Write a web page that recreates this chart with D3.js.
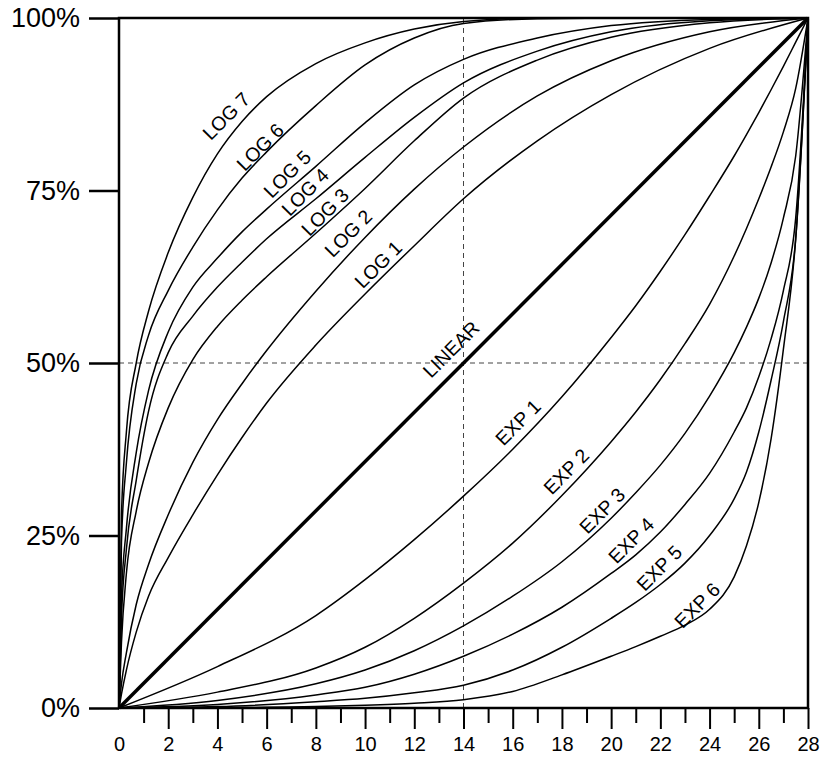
<!DOCTYPE html>
<html>
<head>
<meta charset="utf-8">
<script src="https://cdn.jsdelivr.net/npm/d3@7"></script>
<style>
  body { margin: 0; background: #fff; }
  text { font-family: "Liberation Sans", Arial, sans-serif; fill: #000; }
</style>
</head>
<body>
<svg width="822" height="761"></svg>
<script>
// x samples for the two families
var logX = [0, 0.1, 0.3, 0.7, 1.2, 2, 3, 4, 5, 6, 8, 10, 12, 14, 17, 20, 24, 28];
var expX = [0, 4, 8, 10, 12, 14, 16, 18, 20, 21, 22, 23, 24, 25, 25.5, 26, 26.5, 27, 27.5, 28];

// LOG curves, % at logX
var log7 = [0, 28, 40, 50, 57.5, 66, 74, 80.3, 85, 88.6, 93.4, 96.4, 98.4, 99.5, 100, 100, 100, 100];
var log6 = [0, 24, 35.5, 47, 54, 60.5, 66.8, 72.2, 76.8, 80.6, 87.3, 93.2, 97.1, 99.2, 99.9, 100, 100, 100];
var log5 = [0, 16, 26, 37, 46, 54.5, 61, 65.2, 69, 72.3, 78.5, 84.8, 90.3, 94.0, 97.1, 98.9, 99.8, 100];
var log4 = [0, 13, 23, 33, 43, 51.5, 56.8, 61, 64.6, 68, 73.8, 79.8, 85.6, 90.6, 95.2, 98, 99.6, 100];
var log3 = [0, 9.5, 19.5, 28.5, 35.5, 43.5, 50.5, 55.3, 59.1, 62.5, 68.8, 75.3, 82.2, 88.4, 93.9, 97.2, 99.3, 100];
var log2 = [0, 3.5, 8, 15, 20.8, 28, 35.6, 41.8, 47, 51.8, 60.4, 68.2, 75.2, 81.3, 88.7, 93.8, 98, 100];
var log1 = [0, 2, 5.5, 11, 16.2, 21.8, 28, 33.8, 39.2, 44.2, 52.6, 60, 67, 73.8, 82.2, 88.9, 95.6, 100];

// EXP curves, % at expX
var exp1 = [0, 6.0, 13.4, 18.6, 24.4, 30.7, 37.5, 45.1, 53.7, 58.3, 63.3, 68.6, 74.2, 80.0, 83.1, 86.3, 89.6, 93.0, 96.5, 100];
var exp2 = [0, 2.3, 5.8, 8.8, 13, 18.1, 23.9, 30.8, 38.6, 42.9, 47.6, 52.8, 58.5, 65.5, 69.5, 73.8, 78.4, 83.5, 89.8, 100];
var exp3 = [0, 1.1, 3.5, 5.5, 8.3, 11.9, 16.2, 21.2, 27.5, 31.2, 35.2, 39.8, 45.2, 51.5, 55.2, 59.4, 64.5, 71, 80, 100];
var exp4 = [0, 0.5, 1.9, 3, 4.9, 7.5, 10.7, 14.6, 19.5, 22.2, 25.5, 29.5, 34, 40, 43.5, 48, 53.5, 60.5, 71, 100];
var exp5 = [0, 0.2, 0.9, 1.4, 2.2, 3.3, 5.5, 8.8, 13, 15.3, 17.9, 21, 25, 30.3, 34.2, 40, 47.5, 56, 68, 100];
var exp6 = [0, 0.05, 0.2, 0.4, 0.7, 1.2, 2.4, 4.8, 7.5, 8.9, 10.4, 12, 14.3, 19, 23.5, 29.8, 39, 52, 68, 100];

var linearX = [0, 28];
var linearY = [0, 100];

// label names and where they sit (data coords)
var labelNames = ["LOG 7", "LOG 6", "LOG 5", "LOG 4", "LOG 3", "LOG 2", "LOG 1",
                  "LINEAR", "EXP 1", "EXP 2", "EXP 3", "EXP 4", "EXP 5", "EXP 6"];
var labelX = [4.35, 5.73, 6.83, 7.56, 8.37, 9.31, 10.53, 13.49, 16.21, 18.17, 19.63, 20.81, 21.95, 23.49];
var labelY = [85.8, 81.3, 77.4, 74.8, 71.9, 68.8, 64.3, 52.0, 41.4, 34.3, 28.6, 24.3, 20.3, 14.9];

var yTicks = [0, 25, 50, 75, 100];

var svg = d3.select("svg"),
    width = +svg.attr("width"),
    height = +svg.attr("height");

var plotLeft = 119, plotRight = 808, plotTop = 18, plotBottom = 708;

var x = d3.scaleLinear().domain([0, 28]).range([plotLeft, plotRight]);
var y = d3.scaleLinear().domain([0, 100]).range([plotBottom, plotTop]);

svg.append("rect").attr("width", width).attr("height", height).attr("fill", "#fff");

// dashed guides
svg.append("line")
    .attr("x1", x(0)).attr("x2", x(28))
    .attr("y1", y(50)).attr("y2", y(50))
    .attr("stroke", "#444").attr("stroke-width", 1)
    .attr("stroke-dasharray", "5,4");
svg.append("line")
    .attr("x1", x(14)).attr("x2", x(14))
    .attr("y1", y(0)).attr("y2", y(100))
    .attr("stroke", "#444").attr("stroke-width", 1)
    .attr("stroke-dasharray", "5,4");

var line = d3.line()
    .x(d => x(d[0]))
    .y(d => y(d[1]))
    .curve(d3.curveMonotoneX);

var curves = [
    [logX, log7], [logX, log6], [logX, log5], [logX, log4], [logX, log3], [logX, log2], [logX, log1],
    [expX, exp1], [expX, exp2], [expX, exp3], [expX, exp4], [expX, exp5], [expX, exp6]
];

svg.append("g")
  .selectAll("path")
  .data(curves)
  .enter()
  .append("path")
    .attr("d", c => line(c[0].map((v, i) => [v, c[1][i]])))
    .attr("fill", "none")
    .attr("stroke", "#000")
    .attr("stroke-width", 1.5);

// linear, heavier
svg.append("path")
    .attr("d", line(linearX.map((v, i) => [v, linearY[i]])))
    .attr("fill", "none")
    .attr("stroke", "#000")
    .attr("stroke-width", 3.5);

// frame
svg.append("rect")
    .attr("x", x(0)).attr("y", y(100))
    .attr("width", x(28) - x(0)).attr("height", y(0) - y(100))
    .attr("fill", "none")
    .attr("stroke", "#000")
    .attr("stroke-width", 2.5);

// y axis
var yAxis = svg.append("g")
    .attr("transform", "translate(" + plotLeft + ",0)")
    .call(d3.axisLeft(y).tickValues(yTicks).tickSize(30).tickPadding(9).tickFormat(d => d + "%"));
yAxis.select(".domain").remove();
yAxis.selectAll("line").attr("stroke", "#000").attr("stroke-width", 2.5);
yAxis.selectAll("text").attr("font-size", 27).attr("font-family", "Liberation Sans, Arial, sans-serif");

// x axis
var xAxis = svg.append("g")
    .attr("transform", "translate(0," + plotBottom + ")")
    .call(d3.axisBottom(x).tickValues(d3.range(0, 29)).tickSize(20).tickFormat(d => d % 2 == 0 ? d : ""));
xAxis.select(".domain").remove();
xAxis.selectAll("line")
    .attr("stroke", "#000").attr("stroke-width", 2)
    .attr("y2", d => d == 0 ? 0 : (d % 2 == 0 ? 21 : 15));
xAxis.selectAll("text")
    .attr("y", 29)
    .attr("font-size", 20)
    .attr("font-family", "Liberation Sans, Arial, sans-serif");

// curve labels
svg.append("g")
  .selectAll("text")
  .data(labelNames)
  .enter()
  .append("text")
    .attr("transform", (d, i) => "translate(" + x(labelX[i]) + "," + y(labelY[i]) + ") rotate(-45)")
    .attr("text-anchor", "middle")
    .attr("dominant-baseline", "central")
    .attr("font-size", 19.5)
    .text(d => d);
</script>
</body>
</html>
